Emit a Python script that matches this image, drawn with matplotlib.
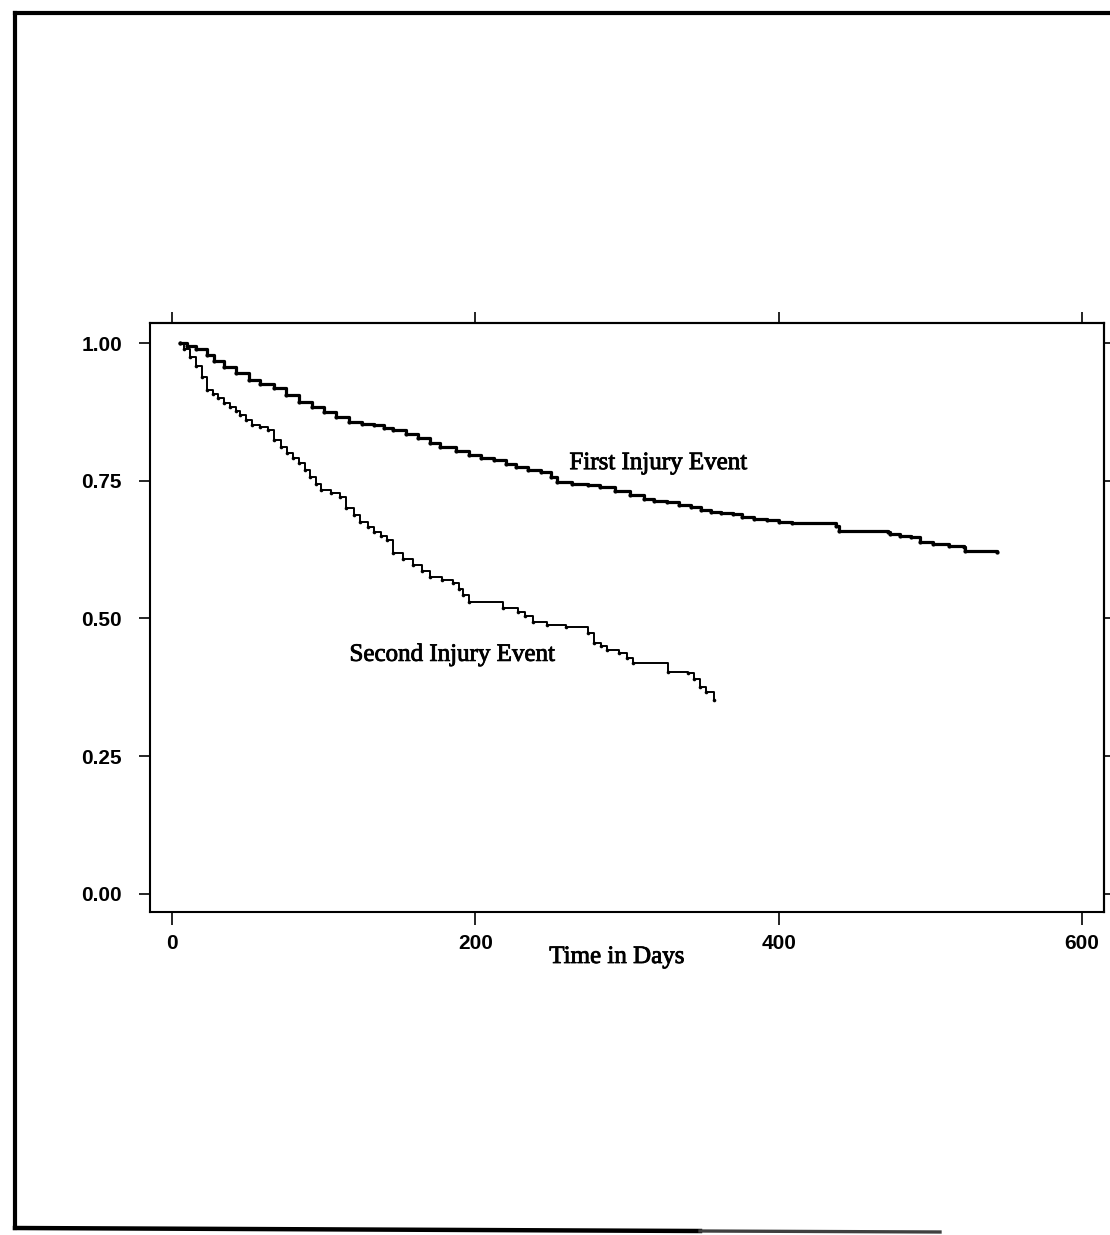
import matplotlib
matplotlib.use("Agg")
import matplotlib.pyplot as plt
from matplotlib.lines import Line2D
import matplotlib.patheffects as pe

# ---- data ----
first_days = [5, 10, 16, 23, 28, 34, 42, 51, 58, 67, 75, 84, 92, 100, 108, 117, 125,
              133, 140, 146, 154, 162, 170, 177, 187, 196, 204, 212, 220, 227, 235,
              243, 250, 254, 264, 274, 282, 292, 302, 311, 318, 326, 334, 342, 349,
              355, 362, 370, 376, 384, 392, 400, 409, 438, 440, 472, 473, 480, 487,
              493, 502, 512, 522, 523, 544]
first_surv = [1.000, 0.995, 0.990, 0.978, 0.968, 0.956, 0.945, 0.933, 0.926, 0.918,
              0.905, 0.893, 0.884, 0.875, 0.866, 0.857, 0.853, 0.851, 0.846, 0.842,
              0.835, 0.828, 0.819, 0.811, 0.804, 0.797, 0.792, 0.788, 0.781, 0.775,
              0.770, 0.766, 0.757, 0.748, 0.745, 0.742, 0.739, 0.731, 0.724, 0.717,
              0.714, 0.711, 0.706, 0.702, 0.697, 0.693, 0.691, 0.690, 0.684, 0.681,
              0.679, 0.676, 0.673, 0.668, 0.659, 0.657, 0.653, 0.650, 0.648, 0.639,
              0.635, 0.632, 0.630, 0.623, 0.621]

second_days = [5, 8, 12, 16, 20, 23, 27, 30, 34, 38, 42, 45, 49, 53, 58, 63, 67, 72,
               76, 80, 84, 88, 91, 95, 98, 105, 111, 115, 120, 124, 129, 133, 138,
               142, 146, 152, 159, 165, 170, 178, 185, 189, 192, 196, 218, 228, 233,
               238, 247, 260, 274, 278, 283, 287, 295, 300, 304, 327, 340, 344, 348,
               352, 357]
second_surv = [1.000, 0.990, 0.975, 0.958, 0.938, 0.915, 0.908, 0.900, 0.892, 0.884,
               0.876, 0.869, 0.860, 0.851, 0.847, 0.842, 0.824, 0.812, 0.800, 0.791,
               0.782, 0.770, 0.757, 0.745, 0.733, 0.727, 0.721, 0.701, 0.688, 0.675,
               0.666, 0.657, 0.650, 0.642, 0.619, 0.608, 0.597, 0.586, 0.575, 0.570,
               0.564, 0.553, 0.543, 0.530, 0.519, 0.512, 0.505, 0.494, 0.488, 0.485,
               0.474, 0.456, 0.450, 0.443, 0.437, 0.428, 0.419, 0.403, 0.401, 0.390,
               0.376, 0.366, 0.352]

x_ticks = [0, 200, 400, 600]
x_tick_labels = ["0", "200", "400", "600"]
y_ticks = [0.00, 0.25, 0.50, 0.75, 1.00]
y_tick_labels = ["0.00", "0.25", "0.50", "0.75", "1.00"]

label_first = "First Injury Event"
label_second = "Second Injury Event"
x_label = "Time in Days"

# ---- figure ----
W, H = 1110, 1235
PT = 72 / 100  # points per pixel at dpi 100
fig = plt.figure(figsize=(W / 100, H / 100), dpi=100)
fig.patch.set_facecolor("white")


def fx(px):
    return px / W


def fy(py):
    return 1 - py / H


# outer frame of the page (scanned: the bottom edge fades out on the right)
frame_kw = dict(transform=fig.transFigure, solid_capstyle="projecting")
fig.add_artist(Line2D([fx(15), fx(1115)], [fy(13), fy(13)], lw=3.0, color="black", **frame_kw))
fig.add_artist(Line2D([fx(15), fx(15)], [fy(13), fy(1228)], lw=3.0, color="black", **frame_kw))
fig.add_artist(Line2D([fx(15), fx(700)], [fy(1228), fy(1231)], lw=3.2, color="black", **frame_kw))
fig.add_artist(Line2D([fx(700), fx(940)], [fy(1231), fy(1232)], lw=2.4, color="0.25", **frame_kw))

L, R, T, B = 150, 1104, 323, 912
ax = fig.add_axes([L / W, 1 - B / H, (R - L) / W, (B - T) / H])
ax.set_xlim(-14.5, 614.4)
ax.set_ylim(-0.0327, 1.0363)

ax.plot(first_days, first_surv, drawstyle="steps-post", color="black", lw=2.3,
        marker="o", ms=3.0, mew=0)
ax.plot(second_days, second_surv, drawstyle="steps-post", color="black", lw=1.4,
        marker="o", ms=2.6, mew=0)

thick = [pe.withStroke(linewidth=0.6, foreground="black")]
serif = dict(family=["Liberation Serif", "DejaVu Serif"], size=18, path_effects=thick)
ax.text(262, 0.782, label_first, ha="left", va="center", **serif)
ax.text(117, 0.434, label_second, ha="left", va="center", **serif)

for sp in ax.spines.values():
    sp.set_linewidth(1.5)

tick_font = dict(family=["Liberation Sans", "DejaVu Sans"], size=15, weight="bold")
ax.set_xticks(x_ticks)
ax.set_xticklabels(x_tick_labels, **tick_font)
ax.set_yticks(y_ticks)
ax.set_yticklabels(y_tick_labels, **tick_font)
ax.tick_params(axis="x", direction="out", length=13 * PT, width=1.2, pad=9 * PT)
ax.tick_params(axis="y", direction="out", length=11 * PT, width=1.2, pad=17 * PT)

# top and right ticks (shorter, no labels)
top = ax.secondary_xaxis("top")
top.set_xticks(x_ticks)
top.tick_params(axis="x", direction="out", length=11 * PT, width=1.2, labeltop=False)
top.spines["top"].set_linewidth(1.5)
right = ax.secondary_yaxis("right")
right.set_yticks(y_ticks)
right.tick_params(axis="y", direction="out", length=6 * PT, width=1.2, labelright=False)
right.spines["right"].set_linewidth(1.5)

ax.text((617 - L) / (R - L), -(957 - B) / (B - T), x_label, transform=ax.transAxes,
        ha="center", va="center", **serif)

fig.savefig("out.png", dpi=100, facecolor="white")
